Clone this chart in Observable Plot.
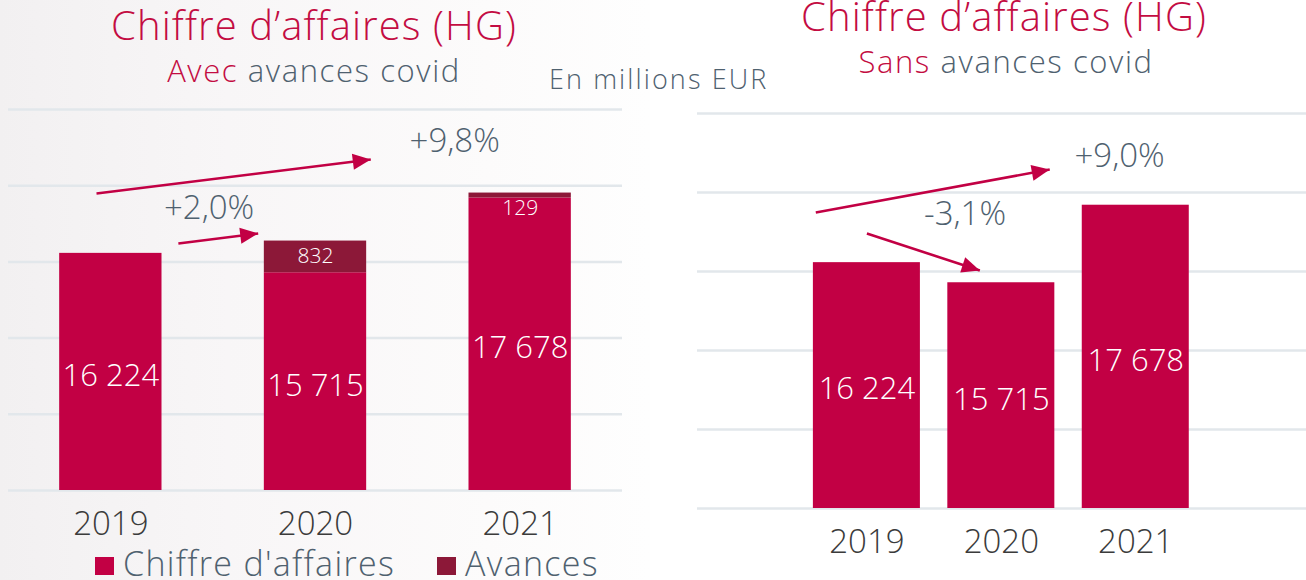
<!DOCTYPE html>
<html><head><meta charset="utf-8">
<script src="https://cdn.jsdelivr.net/npm/d3@7"></script>
<script src="https://cdn.jsdelivr.net/npm/@observablehq/plot@0.6"></script>
<style>
html,body{margin:0;padding:0;background:#fff;}
#wrap{position:relative;width:1306px;height:580px;overflow:hidden;font-family:"Open Sans",sans-serif;font-weight:300;}
#bgL{position:absolute;left:0;top:0;width:650px;height:580px;background:linear-gradient(90deg,#f2f0f1 0%,#f8f6f7 35%,#fcfbfb 75%,#fefefe 100%);}
.abs{position:absolute;white-space:nowrap;line-height:1;}
.ctr{transform:translateX(-50%);}
.title{font-size:40px;color:#c30c42;letter-spacing:1.1px;font-weight:300;line-height:0.8;}
.sub{font-size:31px;color:#4f616f;letter-spacing:1.6px;font-weight:300;}
.red{color:#c30c42;}
#plotL{position:absolute;left:0;top:0;}
#plotR{position:absolute;left:650px;top:0;}
</style></head><body>
<div id="wrap">
  <div id="bgL"></div>
  <div id="plotL"></div>
  <div id="plotR"></div>
  <div class="abs ctr title" style="left:314px;top:9px">Chiffre d’affaires (HG)</div>
  <div class="abs ctr sub" style="left:314px;top:55px"><span class="red">Avec</span> avances covid</div>
  <div class="abs ctr title" style="left:1004px;top:0px">Chiffre d’affaires (HG)</div>
  <div class="abs ctr sub" style="left:1006px;top:46px"><span class="red">Sans</span> avances covid</div>
  <div class="abs" id="unit" style="left:549px;top:65px;font-size:27px;color:#4f616f;letter-spacing:2.1px">En millions EUR</div>
  <div id="legend"></div>
</div>
<script>
// ---- data ----
const years = [2019, 2020, 2021];
const chiffreAffaires = [16224, 15715, 17678];
const avances = [0, 832, 129];
const gridValues = [10000, 12000, 14000, 16000, 18000, 20000];
const seriesNames = ["Chiffre d'affaires", "Avances"];
const seriesColors = ["#c20044", "#8c1838"];

// growth annotations (data units: year, EUR millions)
const leftArrows = [
  {x1: 2018.93, y1: 17795, x2: 2020.27, y2: 18688},
  {x1: 2019.33, y1: 16483, x2: 2019.72, y2: 16745}
];
const leftGrowth = [
  {x: 2020.68, y: 19160, label: "+9,8%"},
  {x: 2019.48, y: 17400, label: "+2,0%"}
];
const rightArrows = [
  {x1: 2018.62, y1: 17494, x2: 2020.36, y2: 18582},
  {x1: 2019.00, y1: 16962, x2: 2019.84, y2: 16025}
];
const rightGrowth = [
  {x: 2020.88, y: 18911, label: "+9,0%"},
  {x: 2019.73, y: 17443, label: "-3,1%"}
];

// ---- build ----
const rows = years.map((y, i) => ({year: y, ca: chiffreAffaires[i], av: avances[i]}));
const fr = d3.formatLocale({decimal: ",", thousands: " ", grouping: [3], currency: ["", " €"]});
const fmt = fr.format(",d");
const yMin = gridValues[0];
const crimson = seriesColors[0], dark = seriesColors[1];
const grey = "#4f616f";

function panel({withAv, arrows, growth, xDomain, half, width, margins}) {
  const marks = [
    Plot.ruleY(gridValues, {stroke: "#e2e7eb", strokeWidth: 2.5}),
    Plot.rect(rows, {x1: d => d.year - half, x2: d => d.year + half, y1: yMin, y2: "ca", fill: crimson})
  ];
  if (withAv) {
    const av = rows.filter(d => d.av > 0);
    marks.push(Plot.rect(av, {x1: d => d.year - half, x2: d => d.year + half, y1: "ca", y2: d => d.ca + d.av, fill: dark}));
    marks.push(Plot.text(av, {x: "year", y: d => d.ca + d.av, dy: 15, text: d => fmt(d.av), fill: "white", fontSize: 21, fontWeight: 300}));
  }
  marks.push(
    Plot.text(rows, {x: "year", y: d => (yMin + d.ca) / 2, dy: 4, text: d => fmt(d.ca), fill: "white", fontSize: 31, fontWeight: 300}),
    Plot.text(years, {x: d => d, frameAnchor: "bottom", lineAnchor: "top", dy: 21, text: d => String(d), fill: "#3b3b3b", fontSize: 33, fontWeight: 300}),
    Plot.link(arrows, {x1: "x1", y1: "y1", x2: "x2", y2: "y2", stroke: crimson, strokeWidth: 2.6, markerEnd: "arrow"}),
    Plot.text(growth, {x: "x", y: "y", text: "label", fill: grey, fontSize: 33, fontWeight: 300})
  );
  const svg = Plot.plot({
    width, height: 580,
    ...margins,
    x: {type: "linear", domain: xDomain, axis: null},
    y: {domain: [gridValues[0], gridValues[gridValues.length - 1]], axis: null},
    style: {fontFamily: "Open Sans, sans-serif", background: "transparent", overflow: "visible"},
    marks
  });
  // filled triangular arrowheads
  d3.select(svg).selectAll("marker").each(function () {
    const m = d3.select(this);
    m.attr("viewBox", "-19 -9 19 18").attr("markerUnits", "userSpaceOnUse")
     .attr("markerWidth", 19).attr("markerHeight", 18)
     .attr("fill", crimson).attr("stroke", "none");
    m.selectAll("*").remove();
    m.append("path").attr("d", "M-18,-8L0,0L-18,8Z");
  });
  return svg;
}

document.getElementById("plotL").appendChild(panel({
  withAv: true, arrows: leftArrows, growth: leftGrowth,
  xDomain: [2018.5, 2021.5], half: 0.25, width: 650,
  margins: {marginLeft: 8, marginRight: 28, marginTop: 109, marginBottom: 90}
}));
document.getElementById("plotR").appendChild(panel({
  withAv: false, arrows: rightArrows, growth: rightGrowth,
  xDomain: [2017.74, 2022.27], half: 0.398, width: 656,
  margins: {marginLeft: 47, marginRight: 0, marginTop: 113, marginBottom: 72}
}));

// legend
const legendPos = [95, 437];
const lg = document.getElementById("legend");
seriesNames.forEach((name, i) => {
  const sq = document.createElement("div");
  sq.className = "abs";
  sq.style.cssText = `left:${legendPos[i]}px;top:557px;width:19px;height:18px;background:${seriesColors[i]}`;
  lg.appendChild(sq);
  const t = document.createElement("div");
  t.className = "abs";
  t.style.cssText = `left:${legendPos[i] + 28}px;top:546px;font-size:34px;color:${grey};font-weight:300;letter-spacing:1.3px`;
  t.textContent = name;
  lg.appendChild(t);
});
</script>
</body></html>
